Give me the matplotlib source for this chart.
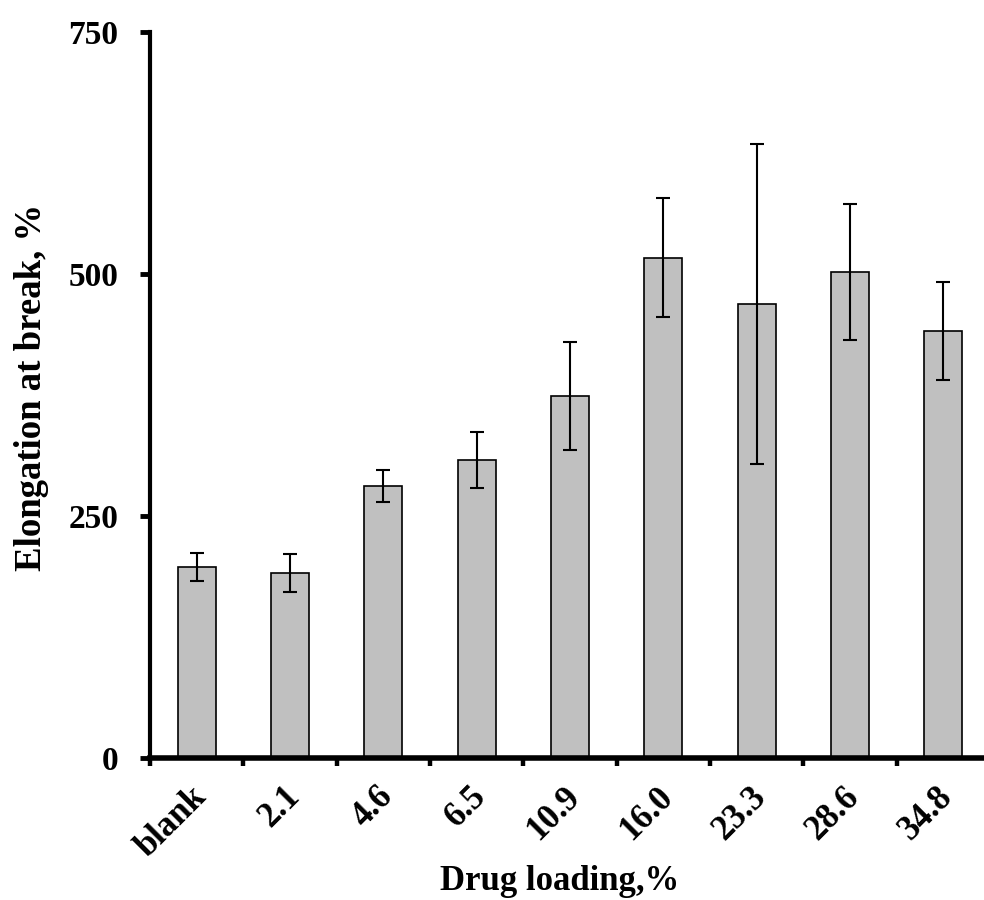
import matplotlib
matplotlib.use("Agg")
import matplotlib.pyplot as plt
import matplotlib.transforms as mtransforms
import numpy as np

categories = ["blank", "2.1", "4.6", "6.5", "10.9", "16.0", "23.3", "28.6", "34.8"]
values = [197, 191, 281, 308, 374, 517, 469, 502, 441]
errors = [14.5, 20, 17, 29, 56, 61, 165, 70, 51]
y_ticks = [0, 250, 500, 750]

plt.rcParams['font.family'] = ['Liberation Serif', 'DejaVu Serif']
plt.rcParams['font.weight'] = 'bold'

fig = plt.figure(figsize=(9.84, 9.0), dpi=100)
W, H = 984, 900
left_px, right_px, bottom_px, top_px = 150, 990, 758, 32
ax = fig.add_axes([left_px / W, 1 - bottom_px / H, (right_px - left_px) / W, (bottom_px - top_px) / H])

x = np.arange(len(categories))
ax.bar(x, values, width=0.41, color='#C0C0C0', edgecolor='black', linewidth=1.2, zorder=2)
ax.errorbar(x, values, yerr=errors, fmt='none', ecolor='black', elinewidth=1.5,
            capsize=5, capthick=1.5, zorder=3)

ax.set_xlim(-0.5, len(categories) - 0.5)
ax.set_ylim(0, 750)

for s in ['top', 'right']:
    ax.spines[s].set_visible(False)
ax.spines['left'].set_linewidth(3.0)
ax.spines['bottom'].set_linewidth(4.0)

ax.set_yticks(y_ticks)
ax.set_yticklabels([str(v) for v in y_ticks], fontsize=24, fontweight='bold')
ax.tick_params(axis='y', direction='out', length=7, width=3.5, pad=16)

ax.set_xticks(np.arange(len(categories) + 1) - 0.5)
ax.set_xticklabels([])
ax.tick_params(axis='x', which='major', direction='out', length=6, width=3.2)
ax.set_xticks(x, minor=True)
ax.set_xticklabels(categories, minor=True, rotation=45, ha='right', va='top',
                   rotation_mode='anchor', fontsize=25, fontweight='bold')
ax.tick_params(axis='x', which='minor', length=0, pad=16)
offset = mtransforms.ScaledTranslation(-7 / 100, 0, fig.dpi_scale_trans)
for lbl in ax.get_xticklabels(minor=True):
    lbl.set_transform(lbl.get_transform() + offset)

ax.set_ylabel('Elongation at break, %', fontsize=26.5, fontweight='bold', labelpad=14, y=0.511)
ax.set_xlabel('Drug loading,%', fontsize=25, fontweight='bold', labelpad=1, x=0.488)

fig.savefig('out.png', dpi=100)
